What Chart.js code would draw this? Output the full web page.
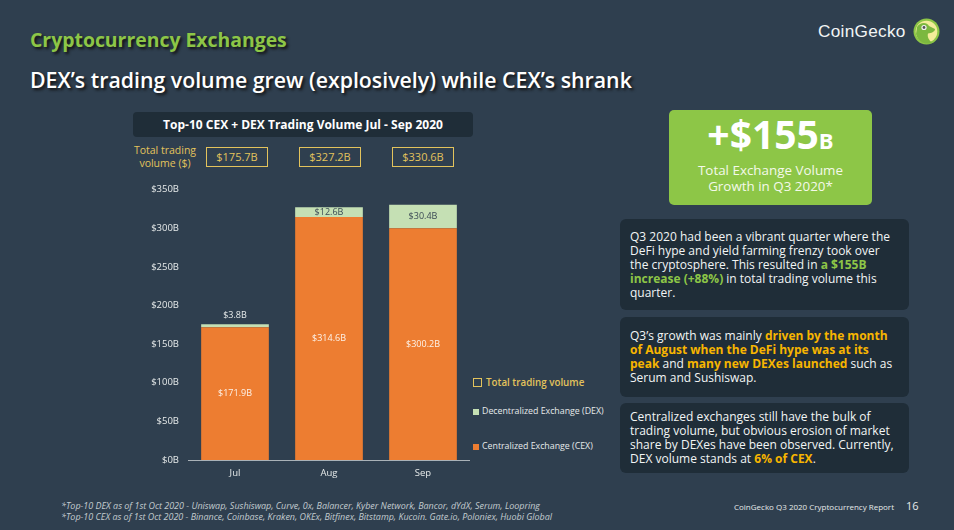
<!DOCTYPE html>
<html>
<head>
<meta charset="utf-8">
<script src="https://cdn.jsdelivr.net/npm/chart.js@4/dist/chart.umd.min.js"></script>
<style>
html, body { margin: 0; padding: 0; }
body { width: 954px; height: 530px; background: #2f3f4f; overflow: hidden; position: relative; font-family: "Open Sans", sans-serif; color: #fff; }
.abs { position: absolute; white-space: nowrap; }
#chartWrap { position: absolute; left: 120px; top: 175px; width: 350px; height: 306px; }
.panel { position: absolute; left: 620px; width: 289px; background: #1f2d38; border-radius: 6px; font-size: 12px; line-height: 14.1px; color: #f2f5f5; box-sizing: border-box; padding: 0 0 0 10px; white-space: nowrap; }
.total { position: absolute; top: 147px; width: 62px; height: 20px; box-sizing: border-box; border: 1.4px solid #e3c35c; color: #e3c35c; font-size: 11px; line-height: 17px; text-align: center; }
.grn { color: #8dc647; font-weight: 700; }
.yel { color: #f7b500; font-weight: 700; }
</style>
</head>
<body>
<div class="abs" style="left:30px;top:26px;font-size:19.4px;font-weight:700;color:#8dc647;text-shadow:2px 2px 3px #111;">Cryptocurrency Exchanges</div>
<div class="abs" style="left:30px;top:65px;font-size:21.3px;font-weight:600;text-shadow:2px 2px 3px #111;">DEX’s trading volume grew (explosively) while CEX’s shrank</div>

<div class="abs" style="left:818px;top:21px;font-size:17.2px;font-family:'Liberation Sans',sans-serif;color:#f2f5f5;letter-spacing:.3px;">CoinGecko</div>
<svg class="abs" style="left:913px;top:18px;" width="27" height="27" viewBox="0 0 27 27">
  <circle cx="13.5" cy="13.5" r="13" fill="#8dc647"/>
  <circle cx="13.5" cy="13.5" r="10.8" fill="#f3ec9a"/>
  <path d="M4 9 C7 4 14 4 16 8 L22 11 C22 14 18 15 15 15.5 C14 19 16 22 19 25 C12 27 5 24 3 16 Z" fill="#7cb83f"/>
  <circle cx="11" cy="9.5" r="2.6" fill="#f4f4f4"/>
  <circle cx="11" cy="9.5" r="1.4" fill="#555"/>
</svg>

<div class="abs" style="left:133px;top:112px;width:340px;height:25px;background:#1f2d38;border-radius:4px;text-align:center;font-size:12px;font-weight:700;line-height:25px;">Top-10 CEX + DEX Trading Volume Jul - Sep 2020</div>
<div class="abs" style="left:125px;top:144px;width:80px;text-align:center;font-size:10.5px;line-height:13px;color:#e3c35c;">Total trading<br>volume ($)</div>
<div id="totals"></div>

<div id="chartWrap"><canvas id="volumeChart"></canvas></div>

<div class="abs" style="left:473px;top:378px;width:7px;height:7px;border:1px solid #e3c35c;"></div>
<div class="abs" style="left:486px;top:376px;font-size:9.8px;font-weight:600;color:#e3c35c;">Total trading volume</div>
<div class="abs" style="left:473px;top:409px;width:6px;height:6px;background:#c5e0b4;"></div>
<div class="abs" style="left:482px;top:405px;font-size:8.8px;color:#e6eaea;">Decentralized Exchange (DEX)</div>
<div class="abs" style="left:473px;top:444px;width:6px;height:6px;background:#ed7d31;"></div>
<div class="abs" style="left:482px;top:440px;font-size:8.8px;color:#e6eaea;">Centralized Exchange (CEX)</div>

<div class="abs" style="left:669px;top:110px;width:203px;height:95px;background:#8dc647;border-radius:5px;text-align:center;">
  <div class="abs" style="left:0;width:203px;top:1px;font-size:39px;font-weight:700;line-height:46px;">+$155<span style="font-size:22px;">B</span></div>
  <div class="abs" style="left:0;width:203px;top:53px;font-size:13.4px;line-height:15.5px;color:#f4f9ea;">Total Exchange Volume<br>Growth in Q3 2020*</div>
</div>

<div class="panel" style="top:219px;height:91px;padding-top:11px;">Q3 2020 had been a vibrant quarter where the<br>DeFi hype and yield farming frenzy took over<br>the cryptosphere. This resulted in <span class="grn">a $155B</span><br><span class="grn">increase (+88%)</span> in total trading volume this<br>quarter.</div>
<div class="panel" style="top:317px;height:80px;padding-top:12px;">Q3’s growth was mainly <span class="yel">driven by the month</span><br><span class="yel">of August when the DeFi hype was at its</span><br><span class="yel">peak</span> and <span class="yel">many new DEXes launched</span> such as<br>Serum and Sushiswap.</div>
<div class="panel" style="top:403px;height:70px;padding-top:7px;">Centralized exchanges still have the bulk of<br>trading volume, but obvious erosion of market<br>share by DEXes have been observed. Currently,<br>DEX volume stands at <span class="yel">6% of CEX</span>.</div>

<div class="abs" style="left:61px;top:500px;font-size:8.95px;line-height:11px;font-style:italic;color:#c3ccd0;">*Top-10 DEX as of 1st Oct 2020 - Uniswap, Sushiswap, Curve, 0x, Balancer, Kyber Network, Bancor, dYdX, Serum, Loopring<br>*Top-10 CEX as of 1st Oct 2020 - Binance, Coinbase, Kraken, OKEx, Bitfinex, Bitstamp, Kucoin. Gate.io, Poloniex, Huobi Global</div>
<div class="abs" style="left:734px;top:501px;font-size:8px;color:#e6eaea;">CoinGecko Q3 2020 Cryptocurrency Report</div>
<div class="abs" style="left:906px;top:498px;font-size:11px;color:#e6eaea;">16</div>

<script>
// =========================
// Chart data
// =========================
const months = ['Jul', 'Aug', 'Sep'];
const cexVolume = [171.9, 314.6, 300.2];
const dexVolume = [3.8, 12.6, 30.4];
const totalVolume = ['$175.7B', '$327.2B', '$330.6B'];
const totalBoxLeft = [206, 299, 392];

// Boxes above the bars
const totalsEl = document.getElementById('totals');
totalVolume.forEach(function (t, i) {
    const box = document.createElement('div');
    box.className = 'total';
    box.style.left = totalBoxLeft[i] + 'px';
    box.textContent = t;
    totalsEl.appendChild(box);
});

// =========================
// Labels on the bars
// =========================
const barLabels = {
    id: 'barLabels',
    afterDatasetsDraw(chart) {
        const ctx = chart.ctx;
        const y = chart.scales.y;
        ctx.save();
        ctx.font = '9px "Open Sans"';
        ctx.textAlign = 'center';
        ctx.textBaseline = 'middle';
        chart.getDatasetMeta(0).data.forEach(function (bar, i) {
            ctx.fillStyle = '#fdf3ea';
            ctx.fillText('$' + cexVolume[i].toFixed(1) + 'B', bar.x, y.getPixelForValue(cexVolume[i] / 2));
            const mid = cexVolume[i] + dexVolume[i] / 2;
            if (dexVolume[i] < 5) {
                ctx.fillStyle = '#e6eaea';
                ctx.fillText('$' + dexVolume[i].toFixed(1) + 'B', bar.x, y.getPixelForValue(cexVolume[i] + dexVolume[i] + 12));
            } else {
                ctx.fillStyle = '#3b4a55';
                ctx.fillText('$' + dexVolume[i].toFixed(1) + 'B', bar.x, y.getPixelForValue(mid));
            }
        });
        ctx.restore();
    }
};

// =========================
// Stacked bar chart
// =========================
new Chart(document.getElementById('volumeChart'), {
    type: 'bar',
    data: {
        labels: months,
        datasets: [
            { label: 'Centralized Exchange (CEX)', data: cexVolume, backgroundColor: '#ed7d31' },
            { label: 'Decentralized Exchange (DEX)', data: dexVolume, backgroundColor: '#c5e0b4' }
        ]
    },
    options: {
        responsive: true,
        maintainAspectRatio: false,
        animation: false,
        layout: { padding: { top: 7 } },
        categoryPercentage: 0.8,
        barPercentage: 0.9,
        plugins: { legend: { display: false }, tooltip: { enabled: false } },
        scales: {
            x: {
                stacked: true,
                grid: { display: false },
                border: { color: '#aab2b8' },
                ticks: { color: '#e6eaea', font: { family: 'Open Sans', size: 9.5 }, padding: 0 },
                afterFit(scale) { scale.height = 21; }
            },
            y: {
                stacked: true,
                min: 0,
                max: 350,
                grid: { display: false, drawTicks: false },
                border: { display: false },
                ticks: {
                    stepSize: 50,
                    color: '#e6eaea',
                    padding: 9,
                    font: { family: 'Open Sans', size: 9.5 },
                    callback: function (v) { return '$' + v + 'B'; }
                },
                afterFit(scale) { scale.width = 68; }
            }
        }
    },
    plugins: [barLabels]
});
</script>
</body>
</html>
